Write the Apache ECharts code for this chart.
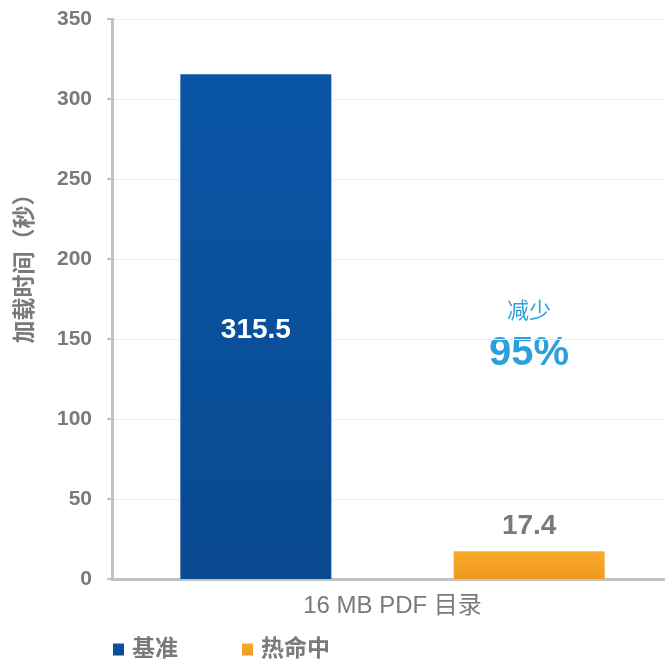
<!DOCTYPE html>
<html>
<head>
<meta charset="utf-8">
<script src="https://cdn.jsdelivr.net/npm/echarts@6/dist/echarts.min.js"></script>
<style>
html, body { margin: 0; padding: 0; background: #fff; }
#chartmain { width: 665px; height: 662px; }
</style>
</head>
<body>
<div id="chartmain"></div>
<script>
var categories = ['16 MB PDF 目录'];
var baseline = [315.5];
var hotHit = [17.4];
var seriesNames = ['基准', '热命中'];
var font = "'Liberation Sans', 'Noto Sans CJK SC', sans-serif";

var option = {
	animation : false,
	backgroundColor : '#fff',
	grid : {
		left : 112,
		width : 561,
		top : 19,
		bottom : 83,
		outerBoundsMode : 'none'
	},
	legend : {
		data : seriesNames,
		left : 108,
		top : 633,
		icon : 'rect',
		itemWidth : 11,
		itemHeight : 12,
		itemGap : 64,
		textStyle : {
			fontFamily : font,
			fontSize : 23,
			fontWeight : 'bold',
			color : '#7a7a7a',
			padding : [0, 0, 0, 3]
		}
	},
	xAxis : {
		type : 'category',
		data : categories,
		axisLine : { lineStyle : { color : '#c2c2c2', width : 3 } },
		axisTick : { show : false },
		axisLabel : {
			margin : 15,
			fontFamily : font,
			fontSize : 24,
			color : '#7a7a7a'
		}
	},
	yAxis : {
		type : 'value',
		min : 0,
		max : 350,
		interval : 50,
		name : '加载时间（秒）',
		nameLocation : 'middle',
		nameRotate : 90,
		nameGap : 75,
		nameTextStyle : {
			fontFamily : font,
			fontSize : 23,
			fontWeight : 'bold',
			color : '#7a7a7a',
			padding : [0, 0, 0, 72]
		},
		axisLine : { show : true, lineStyle : { color : '#c2c2c2', width : 3 } },
		axisTick : { show : true, length : 5, lineStyle : { color : '#c2c2c2', width : 2 } },
		splitLine : { lineStyle : { color : '#ececec', width : 1 } },
		axisLabel : {
			margin : 20,
			fontFamily : font,
			fontSize : 21,
			fontWeight : 'bold',
			color : '#7a7a7a'
		}
	},
	series : [ {
		name : seriesNames[0],
		type : 'bar',
		data : baseline,
		barWidth : 151,
		barGap : '81%',
		itemStyle : {
			color : new echarts.graphic.LinearGradient(0, 0, 0, 1, [
				{ offset : 0, color : '#0b55a6' },
				{ offset : 1, color : '#094a90' }
			])
		},
		label : {
			show : true,
			position : 'inside',
			offset : [0, 4],
			fontFamily : font,
			fontSize : 28,
			fontWeight : 'bold',
			color : '#fff'
		}
	}, {
		name : seriesNames[1],
		type : 'bar',
		data : hotHit,
		barWidth : 151,
		itemStyle : {
			color : new echarts.graphic.LinearGradient(0, 0, 0, 1, [
				{ offset : 0, color : '#f8aa2a' },
				{ offset : 1, color : '#ef9a1e' }
			])
		},
		label : {
			show : true,
			position : 'top',
			distance : 11,
			fontFamily : font,
			fontSize : 28,
			fontWeight : 'bold',
			color : '#7a7a7a'
		}
	} ],
	graphic : [ {
		type : 'text',
		x : 529,
		y : 312,
		style : {
			text : '减少',
			fontFamily : font,
			fontSize : 22,
			fill : '#2ba0dc',
			align : 'center',
			verticalAlign : 'middle'
		}
	}, {
		type : 'text',
		x : 529,
		y : 354,
		style : {
			text : '95%',
			fontFamily : font,
			fontSize : 40,
			fontWeight : 'bold',
			fill : '#2ba0dc',
			align : 'center',
			verticalAlign : 'middle',
			backgroundColor : '#fff',
			padding : [2, 16, 2, 16]
		}
	} ]
};
// 初始化图表
var myChart = echarts.init(document.getElementById('chartmain'));
myChart.setOption(option);
</script>
</body>
</html>
